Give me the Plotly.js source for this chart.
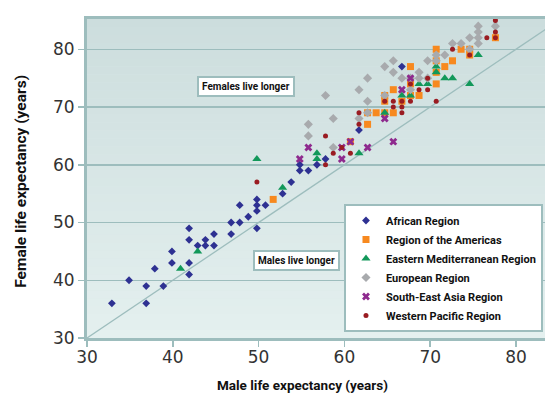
<!DOCTYPE html>
<html><head><meta charset="utf-8">
<script src="https://cdn.plot.ly/plotly-3.0.1.min.js"></script>
<style>html,body{margin:0;padding:0;background:#fff;} #chart{width:545px;height:401px;}</style>
</head><body><div id="chart"></div>
<script>
// ---- data (male, female life expectancy, years) ----
const regionNames = ["African Region", "Region of the Americas", "Eastern Mediterranean Region", "European Region", "South-East Asia Region", "Western Pacific Region"];

const african_male = [32.9,34.9,36.9,36.9,37.9,38.9,39.9,39.9,41.9,41.9,41.9,41.9,42.9,43.8,43.8,44.8,44.8,46.8,46.8,47.8,48.8,47.8,49.8,49.8,49.8,50.8,49.8,52.8,53.8,54.8,55.8,54.8,56.8,57.8,61.7,66.7];
const african_female = [36,40,39,36,42,39,45,43,49,47,43,41,46,47,46,48,46,50,48,50,51,53,54,53,52,53,49,55,57,59,59,60,60,61,66,77];

const americas_male = [51.7,60.7,62.7,63.7,64.7,65.7,62.7,64.7,65.7,67.7,68.7,66.7,64.7,67.7,70.7,70.7,67.7,71.7,70.7,72.6,70.7,73.6,74.6,74.6,77.6];
const americas_female = [54,64,69,69,69,69,67,72,73,72,72,71,71,74,74,76,77,77,78,78,80,80,80,79,82];

const emr_male = [40.9,42.9,49.8,52.8,56.8,56.8,61.7,64.7,66.7,67.7,68.7,69.7,70.7,70.7,71.7,72.6,74.6,75.6];
const emr_female = [42,45,61,56,62,61,62,69,72,72,74,74,77,76,75,75,74,79];

const europe_male = [55.8,55.8,57.8,58.7,58.7,61.7,61.7,62.7,62.7,62.7,64.7,64.7,65.7,65.7,66.7,67.7,67.7,68.7,68.7,69.7,69.7,70.7,70.7,71.7,72.6,73.6,74.6,74.6,75.6,75.6,75.6,75.6,77.6];
const europe_female = [65,67,72,63,68,68,73,75,71,69,77,72,76,78,75,75,73,76,75,75,78,78,79,79,81,81,82,80,84,83,82,81,84];

const sear_male = [54.8,55.8,59.7,59.7,60.7,62.7,64.7,65.7,66.7,67.7];
const sear_female = [61,63,63,61,64,63,68,64,73,75];

const wpr_male = [49.8,57.8,57.8,58.7,59.7,60.7,61.7,61.7,64.7,65.7,66.7,67.7,66.7,65.7,66.7,68.7,69.7,67.7,69.7,70.7,72.6,74.6,76.6,77.6,77.6,77.6];
const wpr_female = [57,65,60,62,63,62,67,69,71,71,71,71,69,70,70,73,73,74,75,71,80,79,82,85,83,82];

const equalityLine = [30, 90];   // male = female reference line
const xTicks = [30, 40, 50, 60, 70, 80];
const yTicks = [30, 40, 50, 60, 70, 80];
const xTitle = "Male life expectancy (years)";
const yTitle = "Female life expectancy (years)";
const noteFemales = "Females live longer";
const noteMales = "Males live longer";

// ---- styling ----
const narrow = 'Roboto, "DejaVu Sans Condensed", sans-serif';
const teal = '#9dbdbd';
const series = [
  [african_male, african_female, 'diamond', '#2e3192', 6],
  [americas_male, americas_female, 'square', '#f7891f', 7],
  [emr_male, emr_female, 'triangle-up', '#12985a', 8],
  [europe_male, europe_female, 'diamond', '#a8aaad', 7],
  [sear_male, sear_female, 'x', '#8e2a8e', 7],
  [wpr_male, wpr_female, 'circle', '#9a1c22', 5]
];

const traces = [{
  x: equalityLine, y: equalityLine, mode: 'lines', type: 'scatter',
  line: {color: teal, width: 1.3}, showlegend: false, hoverinfo: 'skip'
}];
series.forEach((s, i) => {
  traces.push({
    x: s[0], y: s[1], type: 'scatter', mode: 'markers', name: regionNames[i],
    marker: {symbol: s[2], color: s[3], size: s[4], line: {width: 0}}
  });
});

// vertical gradient background of the plot area
const shapes = [];
const NSTRIP = 40, gradTop = [204, 221, 221], gradBot = [228, 240, 239];
for (let i = 0; i < NSTRIP; i++) {
  const t = (i + 0.5) / NSTRIP;
  const c = gradBot.map((b, k) => Math.round(b + (gradTop[k] - b) * t));
  shapes.push({type: 'rect', xref: 'paper', yref: 'paper', x0: 0, x1: 1, y0: i / NSTRIP, y1: (i + 1) / NSTRIP,
    fillcolor: `rgb(${c[0]},${c[1]},${c[2]})`, line: {width: 0}, layer: 'below'});
}

const boxNote = (text, x, y) => ({
  text: text, x: x, y: y, xref: 'x', yref: 'y', showarrow: false,
  font: {family: narrow, size: 10, color: '#111', weight: 'bold'},
  bgcolor: '#ffffff', bordercolor: teal, borderwidth: 2, borderpad: 3
});

const layout = {
  width: 545, height: 401,
  margin: {l: 87, r: 0, t: 19, b: 63, autoexpand: false},
  paper_bgcolor: '#ffffff', plot_bgcolor: '#dae8e8',
  showlegend: true,
  xaxis: {
    range: [30, 83.38], tickvals: xTicks, ticktext: xTicks.map(String),
    ticks: 'outside', ticklen: 6, tickcolor: teal, tickwidth: 1.5, ticklabelstandoff: -4,
    showgrid: false, zeroline: false, showline: true, linecolor: teal, linewidth: 3, mirror: true,
    tickfont: {family: 'DejaVu Sans', size: 17, color: '#333'}
  },
  yaxis: {
    range: [30, 85.24], tickvals: yTicks, ticktext: yTicks.map(String),
    ticks: 'outside', ticklen: 6, tickcolor: teal, tickwidth: 1.5,
    showgrid: true, gridcolor: teal, gridwidth: 1.5, zeroline: false,
    showline: true, linecolor: teal, linewidth: 3, mirror: false,
    tickfont: {family: 'DejaVu Sans', size: 17, color: '#333'}
  },
  legend: {
    x: 0.9956, xanchor: 'right', y: 0.42, yanchor: 'top',
    bgcolor: '#ffffff', bordercolor: teal, borderwidth: 2,
    font: {family: narrow, size: 11, color: '#111', weight: 'bold'},
    itemwidth: 30
  },
  shapes: shapes,
  annotations: [
    boxNote(noteFemales, 48.55, 73.56),
    boxNote(noteMales, 54.45, 43.37),
    {text: xTitle, xref: 'paper', yref: 'paper', x: 0.4716, y: -0.146, xanchor: 'center', yanchor: 'middle',
     showarrow: false, font: {family: narrow, size: 13.5, color: '#111', weight: 'bold'}},
    {text: yTitle, xref: 'paper', yref: 'paper', x: -0.144, y: 0.49, xanchor: 'center', yanchor: 'middle',
     textangle: -90, showarrow: false, font: {family: narrow, size: 15.5, color: '#111', weight: 'bold'}}
  ]
};

Plotly.newPlot('chart', traces, layout, {displayModeBar: false, staticPlot: true});
</script>
</body></html>
